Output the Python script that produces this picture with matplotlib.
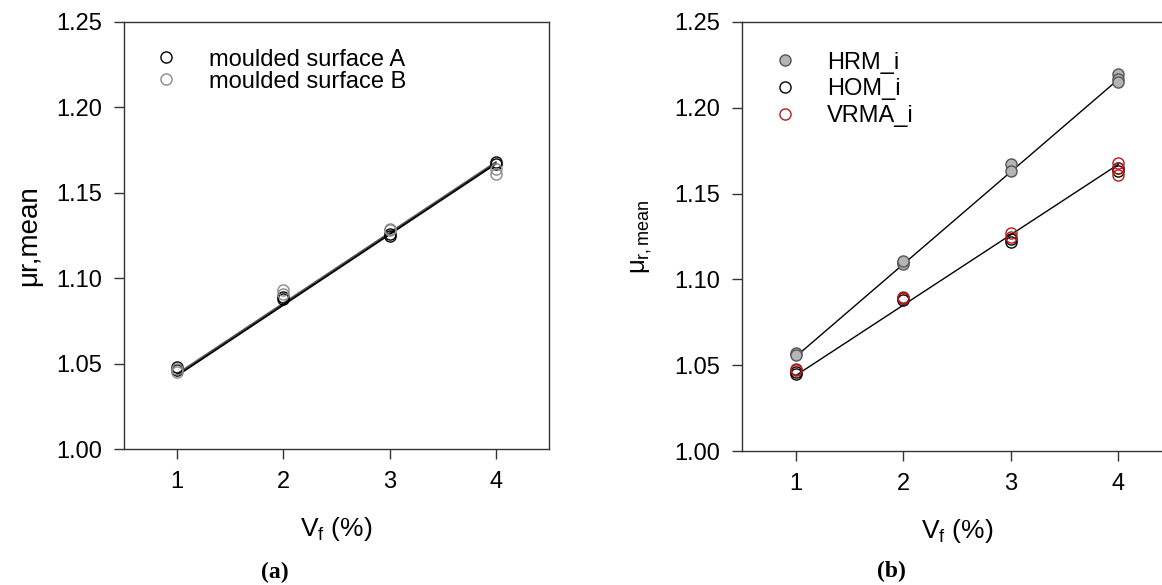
import numpy as np
import matplotlib
matplotlib.use("Agg")
import matplotlib.pyplot as plt
from matplotlib.lines import Line2D

plt.rcParams['font.family'] = ['Liberation Sans', 'DejaVu Sans']
plt.rcParams['mathtext.fontset'] = 'custom'
plt.rcParams['mathtext.rm'] = 'Liberation Sans'
plt.rcParams['mathtext.it'] = 'Liberation Sans'

# ---- panel (a) data ----
vf_a = [1, 1, 2, 2, 3, 3, 4, 4]
surf_A = [1.048, 1.046, 1.089, 1.088, 1.125, 1.126, 1.168, 1.167]
surf_B = [1.045, 1.047, 1.093, 1.091, 1.129, 1.128, 1.164, 1.161]
fit_x = [1, 4]
fit_A = [1.043, 1.167]
fit_B = [1.044, 1.168]

# ---- panel (b) data ----
vf_b = [1, 1, 2, 2, 2, 3, 3, 4, 4, 4]
hrm = [1.057, 1.056, 1.110, 1.109, 1.111, 1.167, 1.163, 1.2195, 1.217, 1.215]
vf_c = [1, 1, 2, 2, 3, 3, 4, 4]
hom = [1.046, 1.045, 1.089, 1.088, 1.1235, 1.122, 1.165, 1.163]
vrma = [1.048, 1.047, 1.090, 1.089, 1.127, 1.125, 1.168, 1.165]
vf_d = [4]
vrma_extra = [1.161]
fit_upper = [1.055, 1.2165]
fit_lower = [1.044, 1.167]

xticks = [1, 2, 3, 4]
yticks = [1.00, 1.05, 1.10, 1.15, 1.20, 1.25]

fig = plt.figure(figsize=(11.62, 5.85), dpi=100)
ax1 = fig.add_axes([124/1162, 1-449/585, 425/1162, 427/585])
ax2 = fig.add_axes([742/1162, 1-451/585, 430/1162, 429/585])

red = '#b31b1b'
gray_edge = '#8a8a8a'
gray_fill = '#b4b4b4'

def style(ax):
    ax.set_xlim(0.5, 4.5)
    ax.set_ylim(1.0, 1.25)
    ax.set_xticks(xticks)
    ax.set_yticks(yticks)
    ax.set_yticklabels([f'{v:.2f}' for v in yticks])
    ax.tick_params(direction='out', length=7, width=1, labelsize=17, pad=9,
                   top=False, right=False, color='#333333')
    for s in ax.spines.values():
        s.set_linewidth(1.0)
        s.set_color('#333333')

# panel (a)
ax1.plot(fit_x, fit_B, color='#555555', lw=1.3, zorder=2)
ax1.plot(fit_x, fit_A, color='black', lw=1.3, zorder=2)
ax1.plot(vf_a, surf_A, 'o', mfc='none', mec='black', ms=8, mew=1.0, zorder=3)
ax1.plot(vf_a, surf_B, 'o', mfc='none', mec=gray_edge, ms=8, mew=1.0, zorder=3)
style(ax1)
ax1.set_xlabel(r'V$_\mathrm{f}$ (%)', fontsize=19, labelpad=16)
ax1.set_ylabel('μr,mean', fontsize=20, labelpad=10)
h1 = [Line2D([], [], ls='none', marker='o', mfc='none', mec='black', ms=8),
      Line2D([], [], ls='none', marker='o', mfc='none', mec=gray_edge, ms=8)]
ax1.legend(h1, ['moulded surface A', 'moulded surface B'], loc='upper left',
           bbox_to_anchor=(0.02, 0.96), frameon=False, fontsize=17,
           handletextpad=0.85, labelspacing=0.0, borderaxespad=0)

# panel (b)
ax2.plot(fit_x, fit_upper, color='black', lw=1.0, zorder=2)
ax2.plot(fit_x, fit_lower, color='black', lw=1.0, zorder=2)
ax2.plot(vf_b, hrm, 'o', mfc=gray_fill, mec='#555555', ms=8, mew=1.0, zorder=3)
ax2.plot(vf_c, hom, 'o', mfc='none', mec='black', ms=8, mew=1.0, zorder=3)
ax2.plot(vf_c, vrma, 'o', mfc='none', mec=red, ms=8, mew=1.0, zorder=4)
ax2.plot(vf_d, vrma_extra, 'o', mfc='none', mec=red, ms=8, mew=1.0, zorder=4)
style(ax2)
ax2.spines['right'].set_visible(False)
ax2.set_xlabel(r'V$_\mathrm{f}$ (%)', fontsize=19, labelpad=16)
ax2.set_ylabel(r'$\mu_\mathrm{r,mean}$', fontsize=18.5, labelpad=14)
h2 = [Line2D([], [], ls='none', marker='o', mfc=gray_fill, mec='#555555', ms=8),
      Line2D([], [], ls='none', marker='o', mfc='none', mec='black', ms=8),
      Line2D([], [], ls='none', marker='o', mfc='none', mec=red, ms=8)]
ax2.legend(h2, ['HRM_i', 'HOM_i', 'VRMA_i'], loc='upper left',
           bbox_to_anchor=(0.023, 0.953), frameon=False, fontsize=17,
           handletextpad=0.78, labelspacing=0.2, borderaxespad=0)

fig.text(275/1162, 1-572/585, '(a)', family='Liberation Serif', fontsize=17,
         fontweight='bold', ha='center', va='center')
fig.text(891/1162, 1-571/585, '(b)', family='Liberation Serif', fontsize=17,
         fontweight='bold', ha='center', va='center')

fig.savefig('out.png', dpi=100)
